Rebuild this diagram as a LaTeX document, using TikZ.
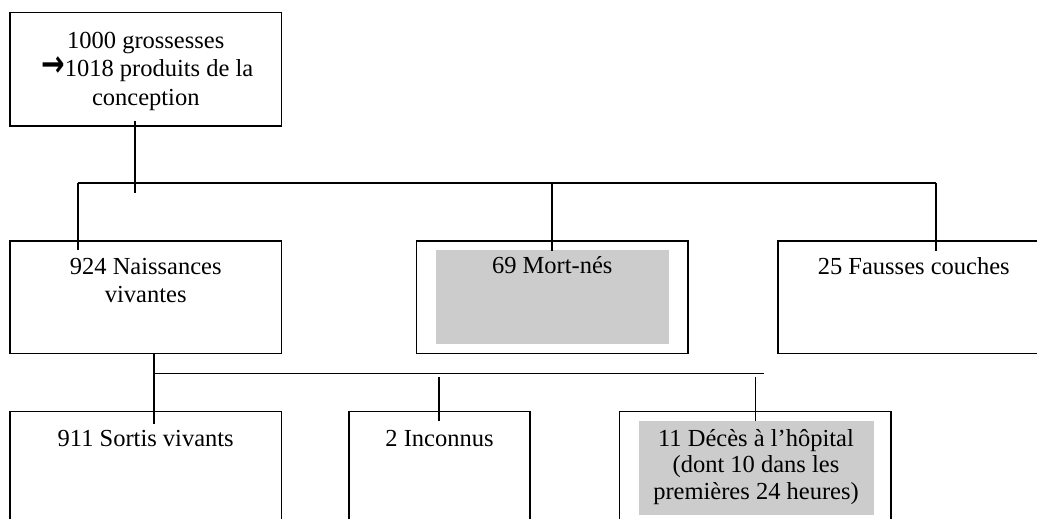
\documentclass[tikz,border=0pt]{standalone}
\usepackage{fontspec}
\setmainfont{Liberation Serif}
\newfontfamily\arrowfont{DejaVu Sans}
\definecolor{shade}{HTML}{CCCCCC}
\begin{document}
\begin{tikzpicture}[x=1pt,y=-1pt,
  box/.style={draw=black, line width=1.9pt, inner sep=0pt},
  greyfill/.style={fill=shade, draw=none},
  conn/.style={draw=black, line width=1.8pt},
  txt/.style={anchor=base, inner sep=0pt, font=\fontsize{24.5pt}{28.5pt}\selectfont}]
\useasboundingbox (0,0) rectangle (1037,519);
\clip (0,0) rectangle (1037,519);
\fill[white] (0,0) rectangle (1037,519);

% boxes
\node[box, minimum width=271.5pt, minimum height=113.5pt] (top) at (145.75,69.25) {};
\node[box, minimum width=271.5pt, minimum height=112.5pt] (live) at (145.75,297.25) {};
\node[box, minimum width=271.5pt, minimum height=112.5pt] (still) at (552.25,297.25) {};
\node[box, minimum width=271.5pt, minimum height=112.5pt] (misc) at (913.75,297.25) {};
\node[box, minimum width=271.5pt, minimum height=112.5pt] (out) at (145.75,467.75) {};
\node[box, minimum width=181pt, minimum height=112.5pt] (unk) at (439.5,467.75) {};
\node[box, minimum width=271.5pt, minimum height=112.5pt] (death) at (755.25,467.75) {};

% grey shading
\node[greyfill, minimum width=233pt, minimum height=93.5pt, inner sep=0pt] (stillg) at (552.5,296.75) {};
\node[greyfill, minimum width=234.5pt, minimum height=94pt, inner sep=0pt] (deathg) at (756.25,468) {};

% texts
\node[txt] (ttop) at (145.75,48.3) {\begin{tabular}[t]{@{}c@{}}1000 grossesses\\\hspace*{3pt}\scalebox{1.15}[1.5]{\arrowfont\bfseries →}1018 produits de la\\conception\end{tabular}};
\node[txt] (tlive) at (145.75,274.3) {\begin{tabular}[t]{@{}c@{}}924 Naissances\\vivantes\end{tabular}};
\node[txt] (tstill) at (552.25,273.5) {69 Mort-nés};
\node[txt] (tmisc) at (913.75,274) {25 Fausses couches};
\node[txt] (tout) at (145.75,446) {911 Sortis vivants};
\node[txt] (tunk) at (439.5,446) {2 Inconnus};
\node[txt, font=\fontsize{24.5pt}{26.5pt}\selectfont] (tdeath) at (756,446) {\begin{tabular}[t]{@{}c@{}}11 Décès à l’hôpital\\(dont 10 dans les\\premières 24 heures)\end{tabular}};

% upper bus
\coordinate (busL) at (78,183.3);
\coordinate (busR) at (935.7,183.3);
\coordinate (busM) at (552.3,183.3);
\coordinate (busT) at (135,183.3);
\draw[conn] ([yshift=6pt]top.south -| busT) -- ([yshift=-10pt]busT);
\draw[conn] (busL) -- (busR);
\draw[conn] (busL) -- ([yshift=-10pt]busL |- live.north);
\draw[conn] (busM) -- ([yshift=-10.5pt]busM |- still.north);
\draw[conn] (busR) -- ([yshift=-10.5pt]busR |- misc.north);

% lower bus
\coordinate (lowL) at (154,373.5);
\coordinate (lowR) at (763.5,373.5);
\coordinate (lowA) at (439.3,377);
\coordinate (lowB) at (755.5,377);
\draw[conn] (lowL |- live.south) -- ([yshift=-13.5pt]lowL |- out.north);
\draw[conn] (lowL) -- (lowR);
\draw[conn] (lowA) -- ([yshift=-10.5pt]lowA |- unk.north);
\draw[conn] (lowB) -- ([yshift=-10.5pt]lowB |- death.north);
\end{tikzpicture}
\end{document}
